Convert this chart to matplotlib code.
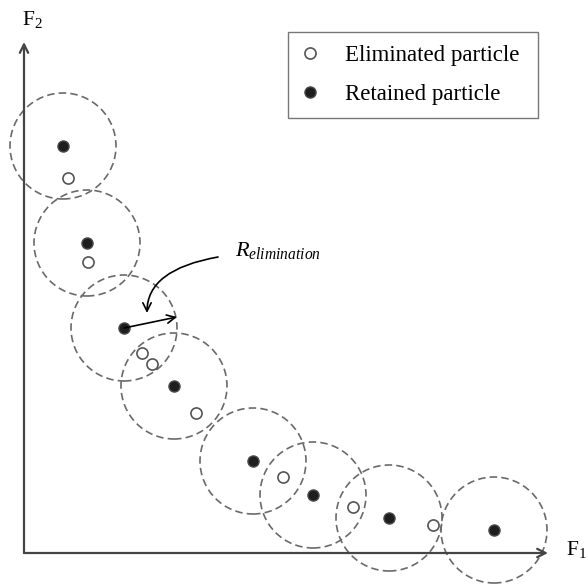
import matplotlib.pyplot as plt
from matplotlib.patches import Circle
from matplotlib.lines import Line2D

plt.rcParams['mathtext.fontset'] = 'custom'
plt.rcParams['mathtext.rm'] = 'Liberation Serif'
plt.rcParams['mathtext.it'] = 'Liberation Serif:italic'
plt.rcParams['font.family'] = 'Liberation Serif'

# Retained particles (F1, F2) - each one is the centre of an elimination circle
retained_f1 = [39, 63, 100, 150, 229, 289, 365, 470]
retained_f2 = [407, 310, 225, 167, 92, 58, 35, 23]

# Eliminated particles (F1, F2)
eliminated_f1 = [44, 64, 118, 128, 172, 259, 329, 409]
eliminated_f2 = [375, 291, 200, 189, 140, 76, 46, 28]

# Elimination radius
r_elim = 53

legend_labels = ['Eliminated particle', 'Retained particle']


def draw_chart():
  fig = plt.figure(figsize=(5.88, 5.84), dpi=100)
  ax = fig.add_axes([0, 0, 1, 1])
  ax.set_xlim(-24, 564)
  ax.set_ylim(-31, 553)
  ax.axis('off')

  # Dashed elimination circles
  for x, y in zip(retained_f1, retained_f2):
    ax.add_patch(Circle((x, y), r_elim, fill=False, edgecolor='#6a6a6a',
                        lw=1.2, linestyle=(0, (4.5, 2.5))))

  # Particles
  ax.plot(eliminated_f1, eliminated_f2, 'o', ms=8, mfc='white',
          mec='#555555', mew=1.2, ls='none', zorder=3)
  ax.plot(retained_f1, retained_f2, 'o', ms=8, mfc='#1e1e1e',
          mec='#4a4a4a', mew=1.0, ls='none', zorder=3)

  # Axes arrows
  ax.annotate('', xy=(0, 511), xytext=(0, 0),
              arrowprops=dict(arrowstyle='->', color='#444444', lw=1.6,
                              shrinkA=0, shrinkB=0, mutation_scale=15))
  ax.annotate('', xy=(524, 0), xytext=(0, 0),
              arrowprops=dict(arrowstyle='->', color='#444444', lw=1.6,
                              shrinkA=0, shrinkB=0, mutation_scale=15))
  ax.text(-2, 528, r'$\mathrm{F}_2$', fontsize=15.5, ha='left', va='baseline')
  ax.text(542, -2, r'$\mathrm{F}_1$', fontsize=15.5, ha='left', va='baseline')

  # Radius arrow from third retained particle
  ax.annotate('', xy=(153, 236), xytext=(retained_f1[2], retained_f2[2]),
              arrowprops=dict(arrowstyle='->', color='black', lw=1.2,
                              shrinkA=0, shrinkB=0, mutation_scale=15))

  # Curved pointer to the label
  ax.annotate('', xy=(123, 240), xytext=(194, 296),
              arrowprops=dict(arrowstyle='->', color='black', lw=1.2,
                              shrinkA=0, shrinkB=0, mutation_scale=15,
                              connectionstyle='angle3,angleA=10,angleB=90'))
  ax.text(211, 297, r'$R_{elimination}$', fontsize=16, ha='left', va='baseline')

  # Legend
  handles = [
    Line2D([], [], marker='o', ls='none', ms=8, mfc='white', mec='#555555', mew=1.2),
    Line2D([], [], marker='o', ls='none', ms=8, mfc='#1e1e1e', mec='#4a4a4a', mew=1.0),
  ]
  leg = ax.legend(handles, legend_labels, loc='upper left',
                  bbox_to_anchor=(288 / 588, 1 - 121 / 584, 250 / 588, 89 / 584),
                  bbox_transform=fig.transFigure, mode='expand', borderaxespad=0,
                  fontsize=16.5, frameon=True, fancybox=False, framealpha=1,
                  edgecolor='#777777', borderpad=0.55, labelspacing=0.8,
                  handlelength=0.85, handletextpad=1.1)
  leg.get_frame().set_linewidth(1.0)

  fig.savefig('out.png', dpi=100)


if __name__ == "__main__":
  draw_chart()
